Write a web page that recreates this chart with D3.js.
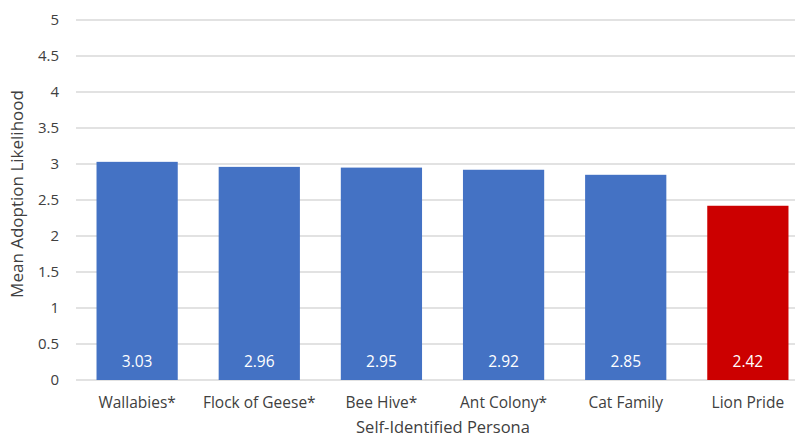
<!DOCTYPE html>
<html>
<head>
<meta charset="utf-8">
<script src="https://cdn.jsdelivr.net/npm/d3@7/dist/d3.min.js"></script>
<style>
  html, body { margin: 0; padding: 0; background: #fff; }
  svg { display: block; }
  text { font-family: "Open Sans", "Noto Sans", sans-serif; }
</style>
</head>
<body>
<svg id="chart" width="795" height="439"></svg>
<script>
// Mean adoption likelihood by self-identified persona
const personas = ["Wallabies*", "Flock of Geese*", "Bee Hive*", "Ant Colony*", "Cat Family", "Lion Pride"];
const means = [3.03, 2.96, 2.95, 2.92, 2.85, 2.42];
const barColors = ["#4472C4", "#4472C4", "#4472C4", "#4472C4", "#4472C4", "#CC0000"];
const yTicks = [0, 0.5, 1, 1.5, 2, 2.5, 3, 3.5, 4, 4.5, 5];

const svg = d3.select("#chart");
const plotLeft = 76, plotRight = 809, plotTop = 20, plotBottom = 380;
const textColor = "#404040";

const x = d3.scaleBand()
  .domain(personas)
  .range([plotLeft, plotRight])
  .paddingInner(0.335)
  .paddingOuter(0.168);

const y = d3.scaleLinear().domain([0, 5]).range([plotBottom, plotTop]);

// horizontal gridlines
svg.append("g")
  .selectAll("line")
  .data(yTicks)
  .join("line")
  .attr("x1", plotLeft)
  .attr("x2", plotRight)
  .attr("y1", d => y(d))
  .attr("y2", d => y(d))
  .attr("stroke", "#d9d9d9")
  .attr("stroke-width", 1.3);

// y axis tick labels
const yAxis = svg.append("g")
  .attr("transform", `translate(${plotLeft},0)`)
  .call(d3.axisLeft(y).tickValues(yTicks).tickSize(0).tickPadding(17).tickFormat(d3.format("")));
yAxis.select(".domain").remove();
yAxis.selectAll("text")
  .attr("font-size", 15)
  .attr("fill", textColor)
  .style("font-family", "'Open Sans', 'Noto Sans', sans-serif");

// bars
svg.append("g")
  .selectAll("rect")
  .data(personas)
  .join("rect")
  .attr("x", d => x(d))
  .attr("width", x.bandwidth())
  .attr("y", (d, i) => y(means[i]))
  .attr("height", (d, i) => y(0) - y(means[i]))
  .attr("fill", (d, i) => barColors[i]);

// value labels inside the bars
svg.append("g")
  .selectAll("text")
  .data(personas)
  .join("text")
  .attr("x", d => x(d) + x.bandwidth() / 2)
  .attr("y", 367)
  .attr("text-anchor", "middle")
  .attr("font-size", 15.5)
  .attr("fill", "#ffffff")
  .text((d, i) => means[i].toFixed(2));

// x axis category labels
const xAxis = svg.append("g")
  .attr("transform", `translate(0,${plotBottom})`)
  .call(d3.axisBottom(x).tickSize(0).tickPadding(17));
xAxis.select(".domain").remove();
xAxis.selectAll("text")
  .attr("font-size", 15.5)
  .attr("fill", textColor)
  .style("font-family", "'Open Sans', 'Noto Sans', sans-serif");

// axis titles
svg.append("text")
  .attr("x", 443)
  .attr("y", 433)
  .attr("text-anchor", "middle")
  .attr("font-size", 16.5)
  .attr("fill", textColor)
  .text("Self-Identified Persona");

svg.append("text")
  .attr("transform", `translate(23,${(plotTop + plotBottom) / 2 - 6}) rotate(-90)`)
  .attr("text-anchor", "middle")
  .attr("font-size", 17)
  .attr("fill", textColor)
  .text("Mean Adoption Likelihood");
</script>
</body>
</html>
